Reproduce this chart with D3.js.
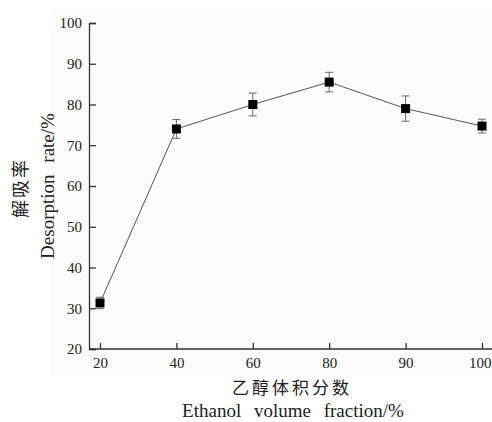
<!DOCTYPE html>
<html>
<head>
<meta charset="utf-8">
<script src="https://cdn.jsdelivr.net/npm/d3@7"></script>
<style>
  body { margin: 0; background: #fff; }
  text { font-family: "Liberation Serif", "DejaVu Serif", serif; fill: #222; }
  .cjk { font-family: "Noto Sans CJK SC", sans-serif; }
</style>
</head>
<body>
<div id="chart"></div>
<script>
// ethanol fraction vs desorption rate
var categories = ['20', '40', '60', '80', '90', '100'];
var values     = [31.3, 74.0, 80.0, 85.5, 79.0, 74.7];
var errors     = [1.4, 2.3, 2.8, 2.4, 3.1, 1.7];
var yTicks     = [20, 30, 40, 50, 60, 70, 80, 90, 100];

(function() {
    'use strict';

    var width = 492, height = 422;
    var left = 89, right = 492, top = 23, bottom = 349;

    var svg = d3.select('#chart')
      .append('svg')
        .attr('width', width)
        .attr('height', height);

    // faint grey panel behind the plot
    svg.append('rect')
        .attr('x', 50).attr('y', 10)
        .attr('width', width - 50).attr('height', 365)
        .attr('fill', '#fcfcfc');

    var x = d3.scalePoint()
        .domain(categories)
        .range([100, 482]);

    var y = d3.scaleLinear()
        .domain([20, 100])
        .range([bottom, top]);

    // y axis, ticks pointing inwards
    var gy = svg.append('g')
        .attr('transform', 'translate(' + left + ',0)')
        .call(d3.axisLeft(y).tickValues(yTicks).tickSize(-7).tickPadding(7));
    gy.attr('font-family', null);
    gy.select('.domain').attr('stroke', '#333').attr('stroke-width', 1.3);
    gy.selectAll('.tick line').attr('stroke', '#333').attr('stroke-width', 1.3);
    gy.selectAll('.tick text').attr('font-size', 15).attr('fill', '#222')
        .style('font-family', '"Liberation Serif", serif');

    // x axis
    var gx = svg.append('g')
        .attr('transform', 'translate(0,' + bottom + ')')
        .call(d3.axisBottom(x).tickSize(-6).tickPadding(8).tickSizeOuter(0));
    gx.attr('font-family', null);
    gx.select('.domain')
        .attr('d', 'M' + left + ',0H' + right)
        .attr('stroke', '#333').attr('stroke-width', 1.3);
    gx.selectAll('.tick line').attr('stroke', '#333').attr('stroke-width', 1.3);
    gx.selectAll('.tick text').attr('font-size', 15).attr('fill', '#222')
        .style('font-family', '"Liberation Serif", serif');
    // last label sits at the window edge, keep it inside
    gx.selectAll('.tick text')
        .filter(function(d) { return d === categories[categories.length - 1]; })
        .attr('text-anchor', 'end')
        .attr('x', right - 1 - x(categories[categories.length - 1]));

    var data = categories.map(function(c, i) {
        return { c: c, v: values[i], e: errors[i] };
    });

    // connecting line
    svg.append('path')
        .datum(data)
        .attr('fill', 'none')
        .attr('stroke', '#555')
        .attr('stroke-width', 1)
        .attr('d', d3.line()
            .x(function(d) { return x(d.c); })
            .y(function(d) { return y(d.v); }));

    // error bars
    var eb = svg.append('g')
        .attr('stroke', '#666')
        .attr('stroke-width', 1)
        .selectAll('g')
        .data(data)
        .enter().append('g');
    eb.append('line')
        .attr('x1', function(d) { return x(d.c); })
        .attr('x2', function(d) { return x(d.c); })
        .attr('y1', function(d) { return y(d.v + d.e); })
        .attr('y2', function(d) { return y(d.v - d.e); });
    eb.append('line')
        .attr('x1', function(d) { return x(d.c) - 4; })
        .attr('x2', function(d) { return x(d.c) + 4; })
        .attr('y1', function(d) { return y(d.v + d.e); })
        .attr('y2', function(d) { return y(d.v + d.e); });
    eb.append('line')
        .attr('x1', function(d) { return x(d.c) - 4; })
        .attr('x2', function(d) { return x(d.c) + 4; })
        .attr('y1', function(d) { return y(d.v - d.e); })
        .attr('y2', function(d) { return y(d.v - d.e); });

    // square markers
    svg.append('g')
        .selectAll('rect')
        .data(data)
        .enter().append('rect')
        .attr('x', function(d) { return x(d.c) - 4.5; })
        .attr('y', function(d) { return y(d.v) - 4.5; })
        .attr('width', 9)
        .attr('height', 9)
        .attr('fill', '#000');

    // axis titles
    svg.append('text')
        .attr('class', 'cjk')
        .attr('transform', 'translate(27,188) rotate(-90)')
        .attr('text-anchor', 'middle')
        .attr('font-size', 18)
        .attr('letter-spacing', 2)
        .text('解吸率');
    svg.append('text')
        .attr('transform', 'translate(54,186) rotate(-90)')
        .attr('text-anchor', 'middle')
        .attr('font-size', 19)
        .attr('word-spacing', 7)
        .text('Desorption rate/%');

    svg.append('text')
        .attr('class', 'cjk')
        .attr('x', 292).attr('y', 394)
        .attr('text-anchor', 'middle')
        .attr('font-size', 17)
        .attr('letter-spacing', 3)
        .text('乙醇体积分数');
    svg.append('text')
        .attr('x', 293).attr('y', 417)
        .attr('text-anchor', 'middle')
        .attr('font-size', 19)
        .attr('word-spacing', 8)
        .text('Ethanol volume fraction/%');
}());
</script>
</body>
</html>
